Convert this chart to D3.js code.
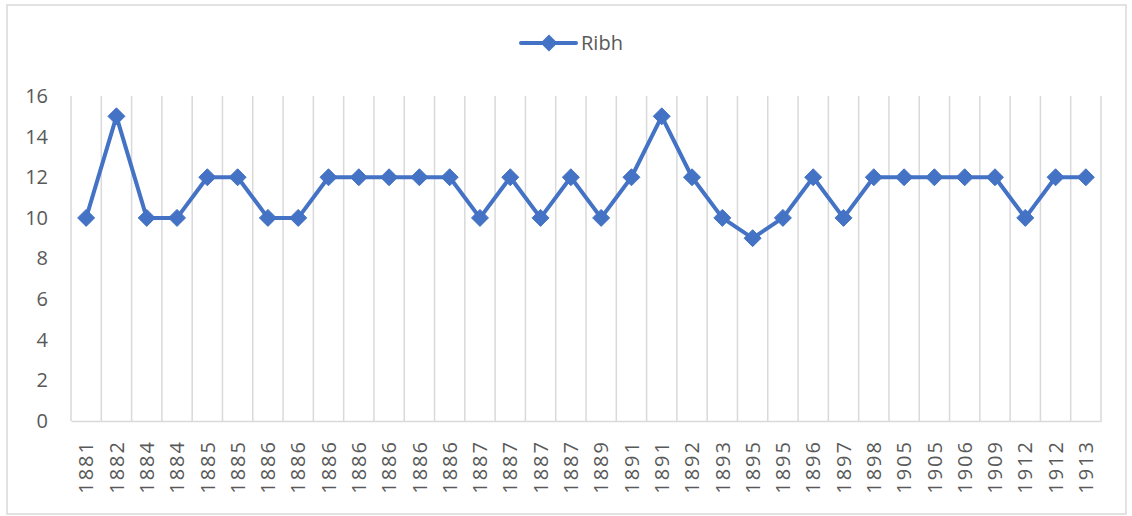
<!DOCTYPE html>
<html>
<head>
<meta charset="utf-8">
<script src="https://cdn.jsdelivr.net/npm/d3@7"></script>
<style>
  html, body { margin: 0; padding: 0; background: #ffffff; }
  svg { display: block; }
  text { font-family: "Open Sans", "Noto Sans", sans-serif; fill: #595959; }
</style>
</head>
<body>
<svg id="chart" width="1132" height="516"></svg>
<script>
// Year labels along the bottom (years repeat, so points are placed by index)
const years = [
  "1881", "1882", "1884", "1884", "1885", "1885", "1886", "1886", "1886", "1886",
  "1886", "1886", "1886", "1887", "1887", "1887", "1887", "1889", "1891", "1891",
  "1892", "1893", "1895", "1895", "1896", "1897", "1898", "1905", "1905", "1906",
  "1909", "1912", "1912", "1913"
];
// Series "Ribh"
const seriesName = "Ribh";
const ribh = [
  10, 15, 10, 10, 12, 12, 10, 10, 12, 12,
  12, 12, 12, 10, 12, 10, 12, 10, 12, 15,
  12, 10, 9, 10, 12, 10, 12, 12, 12, 12,
  12, 10, 12, 12
];
const yTicks = [0, 2, 4, 6, 8, 10, 12, 14, 16];

const blue = "#4472C4";
const grid = "#d9d9d9";

const svg = d3.select("#chart");

// Chart frame
svg.append("rect")
  .attr("x", 7).attr("y", 5).attr("width", 1119).attr("height", 509)
  .attr("fill", "#fff").attr("stroke", grid).attr("stroke-width", 1.5);

const plot = { left: 71, right: 1101, top: 96, bottom: 421 };

const x = d3.scaleBand()
  .domain(d3.range(years.length))
  .range([plot.left, plot.right])
  .paddingInner(0).paddingOuter(0);

const y = d3.scaleLinear().domain([0, 16]).range([plot.bottom, plot.top]);

// Vertical gridlines at category boundaries
const bounds = d3.range(years.length + 1).map(i => plot.left + i * x.step());
svg.append("g").selectAll("line").data(bounds).join("line")
  .attr("x1", d => d).attr("x2", d => d)
  .attr("y1", plot.top).attr("y2", plot.bottom)
  .attr("stroke", grid).attr("stroke-width", 1.5);

// Category axis
const xAxis = svg.append("g")
  .attr("transform", `translate(0,${plot.bottom})`)
  .call(d3.axisBottom(x).tickSize(0).tickFormat(i => years[i]));
xAxis.select(".domain").attr("stroke", grid).attr("stroke-width", 1.5);
xAxis.selectAll("text")
  .attr("transform", "rotate(-90)")
  .attr("text-anchor", "end")
  .attr("x", -19)
  .attr("y", 0)
  .attr("dy", "0.36em")
  .style("font-size", "20px")
  .style("letter-spacing", "2px")
  .style("font-family", "'Open Sans', sans-serif")
  .attr("fill", "#595959");

// Value axis (labels only)
const yAxis = svg.append("g")
  .attr("transform", `translate(${plot.left},0)`)
  .call(d3.axisLeft(y).tickValues(yTicks).tickSize(0).tickPadding(23));
yAxis.select(".domain").remove();
yAxis.selectAll("text")
  .style("font-size", "20px")
  .style("font-family", "'Open Sans', sans-serif")
  .attr("fill", "#595959");

// Line series
const line = d3.line()
  .x((d, i) => x(i) + x.bandwidth() / 2)
  .y(d => y(d));

svg.append("path")
  .datum(ribh)
  .attr("d", line)
  .attr("fill", "none")
  .attr("stroke", blue)
  .attr("stroke-width", 4)
  .attr("stroke-linejoin", "round");

// Diamond markers
const diamond = (cx, cy, r) => `M${cx},${cy - r}L${cx + r},${cy}L${cx},${cy + r}L${cx - r},${cy}Z`;
svg.append("g").selectAll("path").data(ribh).join("path")
  .attr("d", (d, i) => diamond(x(i) + x.bandwidth() / 2, y(d), 8.5))
  .attr("fill", blue)
  .attr("stroke", blue)
  .attr("stroke-width", 1);

// Legend
const legend = svg.append("g").attr("transform", "translate(521,43)");
legend.append("line")
  .attr("x1", 0).attr("x2", 55).attr("y1", 0).attr("y2", 0)
  .attr("stroke", blue).attr("stroke-width", 4).attr("stroke-linecap", "round");
legend.append("path")
  .attr("d", diamond(28, 0, 8.5))
  .attr("fill", blue);
legend.append("text")
  .attr("x", 60).attr("y", 0).attr("dy", "0.36em")
  .style("font-size", "20px")
  .text(seriesName);
</script>
</body>
</html>
